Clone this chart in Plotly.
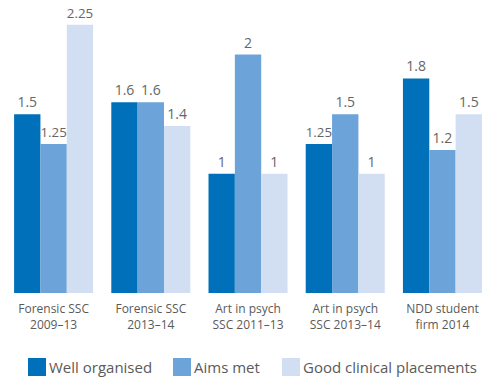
import plotly.graph_objects as go

categories = ["Forensic SSC<br>2009–13", "Forensic SSC<br>2013–14", "Art in psych<br>SSC 2011–13",
              "Art in psych<br>SSC 2013–14", "NDD student<br>firm 2014"]
series_names = ["Well organised", "Aims met", "Good clinical placements"]
well_organised = [1.5, 1.6, 1, 1.25, 1.8]
aims_met = [1.25, 1.6, 2, 1.5, 1.2]
good_clinical = [2.25, 1.4, 1, 1, 1.5]
colors = ["#0070BA", "#6CA3D9", "#D2DFF2"]

W, H = 486, 379
ML, MR, MT, MB = 5, 0, 10, 86
pw, ph = W - ML - MR, H - MT - MB

def px_x(px):
    return (px - ML) / pw

def px_y(py):
    return (H - MB - py) / ph

fig = go.Figure()
for name, vals, col in zip(series_names, [well_organised, aims_met, good_clinical], colors):
    fig.add_trace(go.Bar(
        x=categories, y=vals, name=name, marker=dict(color=col, line=dict(width=0)),
        text=[f"{v:g}" for v in vals], textposition="outside",
        textfont=dict(size=14, color="#666666"), cliponaxis=False, showlegend=False,
    ))

# custom legend (larger squares than plotly's native legend)
legend_sq_x = [28, 173, 282]
for name, col, sx in zip(series_names, colors, legend_sq_x):
    fig.add_shape(type="rect", xref="paper", yref="paper",
                  x0=px_x(sx), x1=px_x(sx + 18), y0=px_y(376), y1=px_y(358),
                  fillcolor=col, line=dict(width=0))
    fig.add_annotation(xref="paper", yref="paper", x=px_x(sx + 19), y=px_y(367),
                       text=name, showarrow=False, xanchor="left", yanchor="middle",
                       font=dict(size=15, color="#5a5a5a"))

fig.update_layout(
    width=W, height=H,
    margin=dict(l=ML, r=MR, t=MT, b=MB),
    barmode="group", bargap=0.187, bargroupgap=0,
    plot_bgcolor="white", paper_bgcolor="white",
    font=dict(family="Open Sans", color="#5a5a5a"),
    showlegend=False,
    xaxis=dict(range=[-0.5, 4.448], showline=False, showgrid=False, ticks="",
               tickfont=dict(size=12, color="#5a5a5a"), ticklabelstandoff=7),
    yaxis=dict(range=[0, 2.374], visible=False, showgrid=False, zeroline=False),
)
fig.write_html("out.html", config={"displayModeBar": False},
               post_script="document.body.style.margin='0px';")
